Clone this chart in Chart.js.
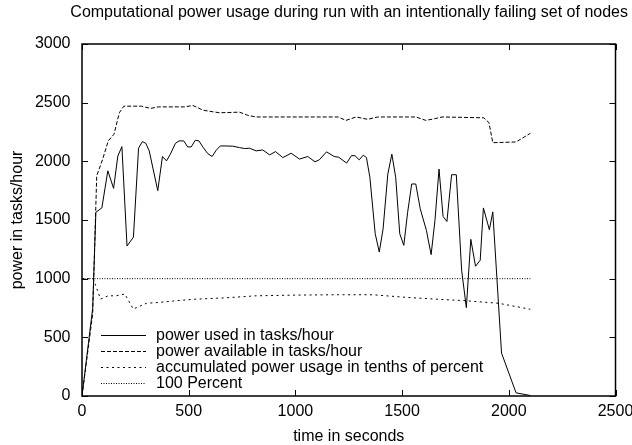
<!DOCTYPE html>
<html>
<head>
<meta charset="utf-8">
<script src="https://cdn.jsdelivr.net/npm/chart.js@4/dist/chart.umd.min.js"></script>
<style>
  html, body { margin: 0; padding: 0; background: #fff; }
  #wrap { width: 632px; height: 445px; }
</style>
</head>
<body>
<div id="wrap"><canvas id="c" width="632" height="445"></canvas></div>
<script>
// ---- data ----
const usedTime = [0, 50, 65, 93, 121, 148, 168, 187, 211, 241, 265, 283, 299, 315, 355, 377, 396, 414, 438, 455, 477, 495, 512, 531, 548, 566, 589, 610, 629, 648, 676, 707, 738, 762, 785, 816, 847, 879, 907, 941, 980, 1019, 1058, 1092, 1112, 1146, 1182, 1203, 1240, 1263, 1280, 1299, 1318, 1333, 1349, 1374, 1393, 1411, 1433, 1452, 1470, 1489, 1508, 1526, 1545, 1564, 1585, 1614, 1636, 1654, 1673, 1692, 1710, 1732, 1754, 1779, 1801, 1822, 1844, 1866, 1881, 1909, 1925, 1966, 2034, 2101];
const usedPower = [0, 747, 1566, 1603, 1919, 1770, 2046, 2125, 1278, 1354, 2112, 2168, 2154, 2089, 1750, 2041, 2004, 2061, 2154, 2174, 2174, 2123, 2123, 2180, 2174, 2123, 2066, 2041, 2095, 2131, 2131, 2129, 2117, 2109, 2112, 2089, 2097, 2055, 2083, 2032, 2069, 2019, 2041, 1996, 2013, 2081, 2041, 2035, 1985, 2049, 2047, 2013, 2053, 2032, 1863, 1383, 1227, 1425, 1891, 2061, 1863, 1383, 1284, 1566, 1807, 1807, 1595, 1411, 1205, 1496, 1934, 1530, 1487, 1886, 1886, 1072, 753, 1335, 1106, 1157, 1603, 1417, 1569, 366, 27, 4];

const availTime = [0, 50, 69, 97, 123, 150, 175, 196, 279, 321, 357, 481, 520, 567, 614, 645, 738, 777, 816, 1200, 1237, 1284, 1339, 1386, 1565, 1611, 1655, 1687, 1883, 1907, 1925, 2034, 2101];
const availPower = [0, 700, 1877, 2019, 2174, 2231, 2414, 2470, 2470, 2451, 2464, 2464, 2476, 2436, 2422, 2414, 2419, 2392, 2378, 2378, 2349, 2378, 2358, 2378, 2378, 2349, 2364, 2378, 2371, 2329, 2159, 2165, 2239];

const accumTime = [0, 52, 72, 87, 123, 161, 201, 240, 302, 364, 442, 520, 676, 816, 1000, 1200, 1361, 1517, 1673, 1797, 1953, 2101];
const accumUsage = [1000, 1000, 902, 826, 854, 854, 869, 741, 790, 798, 812, 824, 837, 854, 860, 863, 863, 841, 824, 812, 790, 739];

const percentTime = [0, 2101];
const percentValue = [1000, 1000];

const seriesLabels = [
  'power used in tasks/hour',
  'power available in tasks/hour',
  'accumulated power usage in tenths of percent',
  '100 Percent'
];
const xTicks = [0, 500, 1000, 1500, 2000, 2500];
const yTicks = [0, 500, 1000, 1500, 2000, 2500, 3000];

// ---- helpers ----
function pts(xs, ys) { return xs.map((x, i) => ({ x: x, y: ys[i] })); }
const FONT = 'Liberation Sans, Arial, Helvetica, sans-serif';

// inward ticks + box border (gnuplot style)
const frame = {
  id: 'frame',
  afterDatasetsDraw(chart) {
    const { ctx, chartArea: a, scales: { x, y } } = chart;
    ctx.save();
    ctx.strokeStyle = '#000';
    ctx.lineWidth = 1;
    const L = 6;
    ctx.beginPath();
    xTicks.forEach(v => {
      const px = Math.round(x.getPixelForValue(v)) + 0.5;
      ctx.moveTo(px, a.bottom); ctx.lineTo(px, a.bottom - L);
      ctx.moveTo(px, a.top); ctx.lineTo(px, a.top + L);
    });
    yTicks.forEach(v => {
      const py = Math.round(y.getPixelForValue(v)) + 0.5;
      ctx.moveTo(a.left, py); ctx.lineTo(a.left + L, py);
      ctx.moveTo(a.right, py); ctx.lineTo(a.right - L, py);
    });
    ctx.stroke();
    ctx.lineWidth = 1.5;
    ctx.strokeRect(a.left, a.top, a.right - a.left, a.bottom - a.top);
    ctx.restore();
  }
};

// key drawn inside the plot, lower left
const key = {
  id: 'key',
  afterDatasetsDraw(chart) {
    const { ctx } = chart;
    const rows = [335, 351, 367, 383];
    ctx.save();
    ctx.font = '16px ' + FONT;
    ctx.fillStyle = '#000';
    ctx.textAlign = 'left';
    ctx.textBaseline = 'middle';
    chart.data.datasets.forEach((ds, i) => {
      const yy = rows[i] + 0.5;
      ctx.strokeStyle = ds.borderColor;
      ctx.lineWidth = ds.borderWidth;
      ctx.setLineDash(ds.borderDash || []);
      ctx.beginPath();
      ctx.moveTo(101, yy); ctx.lineTo(146, yy);
      ctx.stroke();
      ctx.setLineDash([]);
      ctx.fillText(ds.label, 156, rows[i] + 1);
    });
    ctx.restore();
  }
};

Chart.defaults.color = '#000';
Chart.defaults.font.family = FONT;
Chart.defaults.font.size = 16;

new Chart(document.getElementById('c'), {
  type: 'line',
  data: {
    datasets: [
      { label: seriesLabels[0], data: pts(usedTime, usedPower), borderColor: '#000', borderWidth: 1, borderDash: [] },
      { label: seriesLabels[1], data: pts(availTime, availPower), borderColor: '#000', borderWidth: 1, borderDash: [4, 2] },
      { label: seriesLabels[2], data: pts(accumTime, accumUsage), borderColor: '#000', borderWidth: 1, borderDash: [2, 3.5] },
      { label: seriesLabels[3], data: pts(percentTime, percentValue), borderColor: '#000', borderWidth: 1, borderDash: [1, 1.5] }
    ]
  },
  options: {
    responsive: false,
    animation: false,
    devicePixelRatio: 1,
    elements: { point: { radius: 0 }, line: { tension: 0, fill: false } },
    layout: { padding: { left: 0, right: 4, top: 0, bottom: 0 } },
    plugins: {
      legend: { display: false },
      tooltip: { enabled: false },
      title: {
        display: true,
        text: 'Computational power usage during run with an intentionally failing set of nodes',
        align: 'end',
        color: '#000',
        font: { size: 16, weight: 'normal', family: FONT, lineHeight: 1.2 },
        padding: { top: 3, bottom: 21.8 }
      }
    },
    scales: {
      x: {
        type: 'linear',
        min: 0, max: 2500,
        afterBuildTicks(s) { s.ticks = xTicks.map(v => ({ value: v })); },
        afterFit(s) { s.height = 49; s.paddingRight = 16.5; s.paddingLeft = 0; },
        ticks: { padding: 6, color: '#000', font: { size: 16 }, callback: v => String(v) },
        grid: { display: false, drawTicks: false },
        border: { display: false },
        title: { display: true, text: 'time in seconds', color: '#000', font: { size: 16, lineHeight: 1 }, padding: { top: 0, bottom: 0 } }
      },
      y: {
        min: 0, max: 3000,
        afterBuildTicks(s) { s.ticks = yTicks.map(v => ({ value: v })); },
        afterFit(s) { s.width = 82; },
        ticks: { padding: 11.5, color: '#000', font: { size: 16 }, callback: v => String(v) },
        grid: { display: false, drawTicks: false },
        border: { display: false },
        title: { display: true, text: 'power in tasks/hour', color: '#000', font: { size: 16, lineHeight: 1.2 }, padding: { top: 7.5, bottom: 0 } }
      }
    }
  },
  plugins: [frame, key]
});
</script>
</body>
</html>
